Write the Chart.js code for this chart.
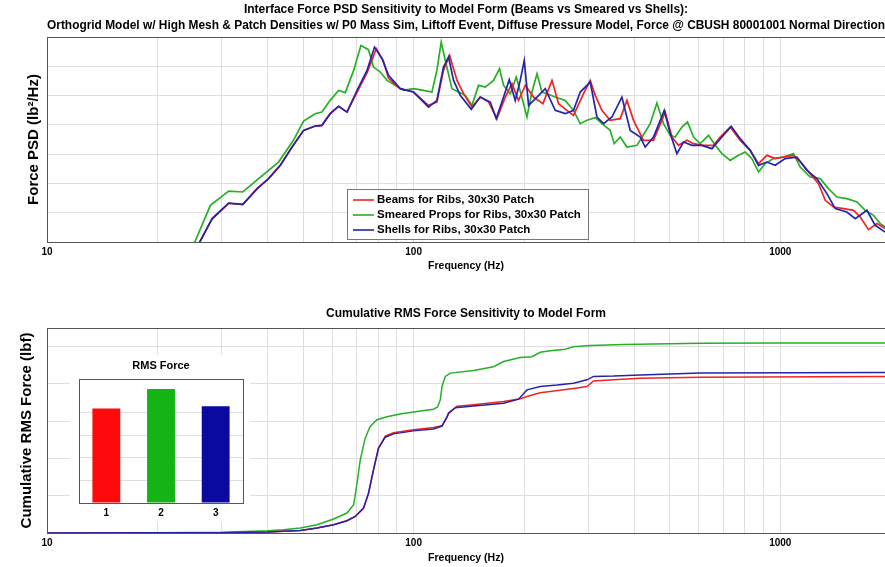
<!DOCTYPE html>
<html>
<head>
<meta charset="utf-8">
<script src="https://cdn.jsdelivr.net/npm/chart.js@4.4.1/dist/chart.umd.min.js"></script>
<style>
  html, body { margin: 0; padding: 0; background: #fff; overflow: hidden; }
  #wrap { position: relative; width: 885px; height: 567px; }
  canvas { position: absolute; }
  #psdChart { left: 0; top: 0; }
  #rmsChart { left: 0; top: 290px; }
  #barChart { left: 70px; top: 355px; background: #fff; }
</style>
</head>
<body>
<div id="wrap">
  <canvas id="psdChart" width="885" height="275"></canvas>
  <canvas id="rmsChart" width="885" height="277"></canvas>
  <canvas id="barChart" width="180" height="167"></canvas>
</div>
<script>
// ---- data ----
const seriesNames = ['Beams for Ribs, 30x30 Patch', 'Smeared Props for Ribs, 30x30 Patch', 'Shells for Ribs, 30x30 Patch'];

// PSD curves: [frequency Hz, PSD]
const psdBeams = [[25.7,7e-5],[28.2,6.0e-4],[31.3,2.1e-3],[34.2,1.9e-3],[37.4,6.5e-3],[40.2,0.0146],[43.3,0.042],[46.6,0.175],[50.1,0.649],[53.9,0.91],[56.2,0.96],[59.2,2.41],[62.4,4.28],[65.8,2.73],[70.1,13],[74.6,60],[79.1,399],[82.6,158],[85.4,38.6],[91.9,17.2],[99.9,13.2],[109.8,4.63],[115.7,6.0],[120.6,72.4],[125.3,235],[131.3,33],[136.8,11.6],[144.2,4.05],[151.9,8.89],[160.1,6.0],[168.7,1.63],[177.8,8.89],[185.4,25.5],[193.2,6.86],[201.6,22.3],[212.3,8.89],[225.2,5.3],[238.4,33],[248.5,5.3],[261.9,3.13],[272.9,2.11],[290.6,11.6],[303.1,33],[312.8,10.2],[326.2,3.13],[343.6,1.43],[365.9,1.63],[381.7,6.86],[397.8,1.43],[423.6,0.296],[451,0.296],[485.4,2.73],[506.3,0.384],[527.7,0.2],[556.4,0.296],[579.9,0.228],[617.5,0.2],[657.4,0.2],[685.7,0.384],[730.1,0.841],[777.5,0.296],[827.7,0.135],[872.1,0.0474],[919.4,0.091],[968.5,0.0702],[1020,0.0796],[1086,0.091],[1146,0.0474],[1206,0.0216],[1271,9.84e-3],[1326,2.65e-3],[1397,1.57e-3],[1488,1.38e-3],[1584,1.21e-3],[1652,7.13e-4],[1740,2.65e-4],[1835,4.25e-4],[1932,2.86e-4]];
const psdSmeared = [[25.0,7e-5],[27.9,1.79e-3],[31.3,5.5e-3],[34.2,5.1e-3],[38.2,0.0165],[42.8,0.0537],[47.0,0.296],[50.1,1.35],[53.9,2.41],[56.2,2.73],[59.2,6.86],[62.4,15],[65.1,12.6],[68.6,72.4],[71.8,516],[75.3,369],[77.7,94],[81.1,63.4],[84.6,33],[88.1,24.1],[93.9,15],[99.9,17.2],[106.4,15],[112.2,13.2],[115.7,72.4],[118.9,670],[122,158],[127.2,17.2],[132.6,13.2],[138.3,10.2],[144.2,4.63],[150.3,22.3],[156.8,19.5],[165.2,33],[171.5,82.8],[175.9,22.3],[183.4,11.6],[190.5,42.8],[196.2,11.6],[203.7,1.85],[210.2,13.2],[217,55.9],[223.8,13.2],[231,11.6],[243.3,8.89],[259.1,6.86],[272.9,3.13],[284.7,1.1],[297,1.43],[312.8,1.76],[326.2,1.1],[343.6,0.649],[352.4,0.228],[365.9,0.384],[381.7,0.175],[406.4,0.2],[428.1,0.568],[441.7,1.1],[460.7,5.55],[480.3,1.1],[501,0.439],[516.9,0.384],[539.2,0.841],[558.4,1.25],[579.9,0.384],[604.8,0.228],[637.1,0.439],[664.5,0.2],[693,0.104],[730.1,0.0614],[769.1,0.091],[802.2,0.118],[836.7,0.0702],[872.1,0.0245],[909.5,0.0474],[958.3,0.0702],[1020,0.0796],[1086,0.104],[1133,0.0363],[1206,0.0165],[1285,0.0146],[1353,6.65e-3],[1427,3.44e-3],[1519,3.03e-3],[1618,2.32e-3],[1704,1.21e-3],[1796,8.15e-4],[1873,4.25e-4],[1932,3.25e-4]];
const psdShells = [[25.7,7e-5],[28.2,6.3e-4],[31.3,2.14e-3],[34.2,1.94e-3],[37.4,6.65e-3],[40.2,0.0146],[43.3,0.0415],[46.6,0.175],[50.1,0.649],[53.9,0.91],[56.2,0.962],[59.2,2.41],[62.4,4.28],[65.8,2.73],[70.1,15],[74.6,72.4],[78.2,452],[82,182],[85.4,48.9],[91.9,17.2],[99.9,13.2],[109.8,4.05],[115.7,6.86],[120.6,94],[124.5,206],[128.5,33],[134,10.2],[143.6,3.38],[151.9,8.89],[161.8,6.0],[168,1.63],[175.9,8.89],[182.3,34.9],[189.3,6.86],[195.3,33],[200.3,158],[205.8,4.63],[217,8.89],[228.5,17.2],[243.3,3.13],[259.1,2.41],[272.9,3.13],[284.7,13.2],[303.1,28.9],[316.2,1.85],[329.6,1.1],[347.4,1.85],[369.8,8.89],[389.6,0.649],[414.9,0.384],[428.1,0.175],[451,0.384],[482.4,3.13],[501,0.501],[522.4,0.104],[544.5,0.259],[574.1,0.2],[611.2,0.2],[650.9,0.154],[693,0.384],[734.7,0.889],[777.5,0.338],[827.7,0.135],[872.1,0.0415],[919.4,0.0537],[968.5,0.0415],[1031,0.0702],[1110,0.0796],[1182,0.028],[1258,0.0146],[1340,4.49e-3],[1412,1.38e-3],[1519,1.06e-3],[1601,6.3e-4],[1723,1.21e-3],[1815,3.72e-4],[1932,2.19e-4]];

// cumulative RMS curves: [frequency Hz, lbf]
const rmsBeams = [[10,0],[20,0.005],[30,0.01],[40,0.03],[44.1,0.05],[49.1,0.07],[54.5,0.134],[60.5,0.222],[65.8,0.33],[69.3,0.445],[73,0.66],[75.3,1.05],[77.7,1.68],[80.2,2.28],[83.7,2.6],[88.1,2.69],[99.9,2.77],[113.3,2.83],[119.5,2.88],[123.3,3.1],[124.5,3.2],[131.3,3.4],[145.7,3.44],[175.9,3.53],[195.3,3.6],[203.7,3.66],[221.4,3.76],[272.9,3.88],[297,3.93],[309.5,4.08],[350.9,4.11],[414.9,4.15],[604.8,4.18],[2000,4.2]];
const rmsSmeared = [[10,0],[20,0.01],[30,0.02],[40,0.06],[44.1,0.09],[49.1,0.134],[54.5,0.222],[60.5,0.375],[65.8,0.536],[68.6,0.758],[70.1,1.34],[71.5,1.96],[73.8,2.55],[76.1,2.86],[79.4,3.04],[84.6,3.12],[91.9,3.19],[102.1,3.26],[113.3,3.32],[116.2,3.38],[118.2,3.57],[119.5,3.93],[122,4.2],[125.9,4.29],[145.7,4.36],[165.2,4.46],[175.9,4.6],[195.3,4.71],[210.2,4.73],[221.4,4.85],[235.8,4.89],[259.1,4.93],[272.9,5.0],[303.1,5.03],[373.6,5.06],[604.8,5.09],[1000,5.1],[2000,5.1]];
const rmsShells = [[10,0],[20,0.005],[30,0.01],[40,0.03],[44.1,0.05],[49.1,0.07],[54.5,0.134],[60.5,0.222],[65.8,0.33],[69.3,0.445],[73,0.67],[75.3,1.07],[77.7,1.7],[80.2,2.28],[83.7,2.57],[88.1,2.66],[99.9,2.74],[113.3,2.79],[119.5,2.87],[123.3,3.12],[124.5,3.22],[129.9,3.36],[145.7,3.41],[175.9,3.48],[193.2,3.59],[203.7,3.84],[221.4,3.93],[246,3.97],[272.9,4.02],[297,4.11],[309.5,4.2],[350.9,4.21],[414.9,4.24],[604.8,4.29],[2000,4.31]];

// inset bar chart
const barLabels = ['1', '2', '3'];
const rmsTotals = [4.19, 5.06, 4.29];

// axis ticks
const freqTicks = [10,20,30,40,50,60,70,80,90,100,200,300,400,500,600,700,800,900,1000,2000];
const freqLabels = [10, 100, 1000];
const psdTicks = [1e-4,1e-3,1e-2,1e-1,1,10,100,1000];
const rmsTicks = [0,1,2,3,4,5];

// ---- styling ----
const FONT = "'Liberation Sans', Arial, sans-serif";
const GRID = '#dedede';
const FRAME = '#555';
const lineColors = ['#f02424', '#26b026', '#2424a8'];
const barColors = ['#ff0a0a', '#14b414', '#0a0aa0'];

Chart.defaults.font.family = FONT;
Chart.defaults.color = '#000';

const toXY = pairs => pairs.map(([x, y]) => ({ x, y }));

const frameBox = {
    id: 'frameBox',
    afterDatasetsDraw(chart) {
        const { ctx, chartArea: a } = chart;
        ctx.save();
        ctx.strokeStyle = FRAME;
        ctx.lineWidth = 1;
        ctx.strokeRect(Math.round(a.left) + 0.5, Math.round(a.top) + 0.5, Math.round(a.width), Math.round(a.height));
        ctx.restore();
    }
};

const legendBox = {
    id: 'legendBox',
    afterDatasetsDraw(chart) {
        const { ctx } = chart;
        const x = 347, y = 189, w = 241, h = 50;
        ctx.save();
        ctx.fillStyle = '#fff';
        ctx.fillRect(x, y, w, h);
        ctx.strokeStyle = '#777';
        ctx.lineWidth = 1;
        ctx.strokeRect(x + 0.5, y + 0.5, w, h);
        ctx.font = 'bold 11.5px ' + FONT;
        ctx.textBaseline = 'middle';
        chart.data.datasets.forEach((ds, i) => {
            const ly = y + 11 + i * 15;
            ctx.strokeStyle = ds.borderColor;
            ctx.lineWidth = 1.6;
            ctx.beginPath();
            ctx.moveTo(x + 6, ly);
            ctx.lineTo(x + 27, ly);
            ctx.stroke();
            ctx.fillStyle = '#000';
            ctx.fillText(ds.label, x + 30, ly);
        });
        ctx.restore();
    }
};

function freqAxis(height) {
    return {
        type: 'logarithmic', min: 10, max: 1930,
        // only ticks inside the range, so no extra right padding is reserved
        afterBuildTicks: s => { s.ticks = freqTicks.filter(v => v <= s.max).map(v => ({ value: v })); },
        afterFit: s => { s.height = height; },
        ticks: { autoSkip: false, maxRotation: 0, padding: 4, font: { size: 10, weight: 'bold' },
                 callback: v => freqLabels.includes(v) ? String(v) : '' },
        grid: { color: GRID, drawTicks: false },
        border: { color: FRAME },
        title: { display: true, text: 'Frequency (Hz)', font: { size: 10.5, weight: 'bold' }, padding: { top: 0, bottom: 3 } }
    };
}

function lineSet(label, pairs, i, width) {
    return { label, data: toXY(pairs), borderColor: lineColors[i], borderWidth: width,
             pointRadius: 0, fill: false, tension: 0, order: [2, 3, 1][i] };
}

// ---- top: PSD ----
new Chart(document.getElementById('psdChart'), {
    type: 'line',
    data: { datasets: [
        lineSet(seriesNames[0], psdBeams, 0, 1.7),
        lineSet(seriesNames[1], psdSmeared, 1, 1.7),
        lineSet(seriesNames[2], psdShells, 2, 1.7)
    ] },
    options: {
        responsive: false, animation: false,
        plugins: {
            legend: { display: false }, tooltip: { enabled: false },
            title: { display: true, fullSize: false, color: '#000',
                     text: ['Interface Force PSD Sensitivity to Model Form (Beams vs Smeared vs Shells):',
                            'Orthogrid Model w/ High Mesh & Patch Densities w/ P0 Mass Sim, Liftoff Event, Diffuse Pressure Model, Force @ CBUSH 80001001 Normal Direction'],
                     font: { size: 12, weight: 'bold', lineHeight: 1.3 }, padding: { top: 2, bottom: 3.8 } }
        },
        scales: {
            x: freqAxis(33),
            y: { type: 'logarithmic', min: 1e-4, max: 1e3,
                 afterBuildTicks: s => { s.ticks = psdTicks.map(v => ({ value: v })); },
                 afterFit: s => { s.width = 47; },
                 ticks: { display: false },
                 grid: { color: GRID, drawTicks: false },
                 border: { color: FRAME },
                 title: { display: true, text: 'Force PSD (lb²/Hz)', font: { size: 15, weight: 'bold' }, padding: { top: 25, bottom: 0 } } }
        }
    },
    plugins: [frameBox, legendBox]
});

// ---- bottom: cumulative RMS ----
new Chart(document.getElementById('rmsChart'), {
    type: 'line',
    data: { datasets: [
        lineSet(seriesNames[0], rmsBeams, 0, 1.5),
        lineSet(seriesNames[1], rmsSmeared, 1, 1.5),
        lineSet(seriesNames[2], rmsShells, 2, 1.5)
    ] },
    options: {
        responsive: false, animation: false,
        plugins: {
            legend: { display: false }, tooltip: { enabled: false },
            title: { display: true, fullSize: false, color: '#000', text: 'Cumulative RMS Force Sensitivity to Model Form',
                     font: { size: 12, weight: 'bold', lineHeight: 1.2 }, padding: { top: 16.8, bottom: 6.8 } }
        },
        scales: {
            x: freqAxis(34),
            y: { min: 0, max: 5.5,
                 afterBuildTicks: s => { s.ticks = rmsTicks.map(v => ({ value: v })); },
                 afterFit: s => { s.width = 47; },
                 ticks: { display: false },
                 grid: { color: GRID, drawTicks: false },
                 border: { color: FRAME },
                 title: { display: true, text: 'Cumulative RMS Force (lbf)', font: { size: 15, weight: 'bold' }, padding: { top: 18, bottom: 0 } } }
        }
    },
    plugins: [frameBox]
});

// ---- inset: RMS totals ----
new Chart(document.getElementById('barChart'), {
    type: 'bar',
    data: { labels: barLabels, datasets: [{ data: rmsTotals, backgroundColor: barColors, barPercentage: 0.51, categoryPercentage: 1 }] },
    options: {
        responsive: false, animation: false,
        layout: { padding: { right: 7 } },
        plugins: {
            legend: { display: false }, tooltip: { enabled: false },
            title: { display: true, fullSize: false, color: '#000', text: 'RMS Force',
                     font: { size: 11, weight: 'bold', lineHeight: 1.2 }, padding: { top: 4.4, bottom: 6.4 } }
        },
        scales: {
            x: { grid: { display: false, drawTicks: false }, border: { color: FRAME },
                 ticks: { padding: 4, font: { size: 10, weight: 'bold' } },
                 afterFit: s => { s.height = 19; } },
            y: { min: 0, max: 5.5, ticks: { display: false, stepSize: 1 },
                 grid: { color: GRID, drawTicks: false }, border: { color: FRAME },
                 afterFit: s => { s.width = 9; } }
        }
    },
    plugins: [frameBox]
});
</script>
</body>
</html>
